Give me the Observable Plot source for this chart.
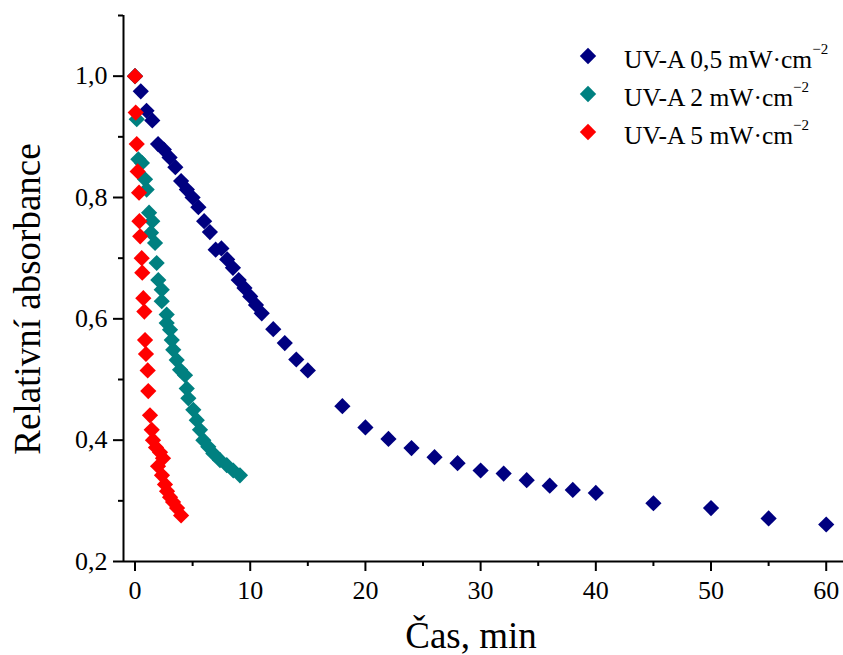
<!DOCTYPE html>
<html>
<head>
<meta charset="utf-8">
<script src="https://cdn.jsdelivr.net/npm/d3@7"></script>
<script src="https://cdn.jsdelivr.net/npm/@observablehq/plot@0.6"></script>
<style>
  html, body { margin: 0; padding: 0; background: #fff; }
  #wrap { position: relative; width: 843px; height: 655px; font-family: "Liberation Serif", "Times New Roman", serif; }
  #legend { position: absolute; left: 579px; top: 37px; font-size: 25.5px; line-height: 38px; color: #000; }
  #legend .row { display: flex; align-items: center; height: 38px; white-space: nowrap; }
  #legend svg { margin-right: 27px; }
  #legend sup { font-size: 15px; position: relative; top: -4px; }
  .title { position: absolute; font-size: 37px; color: #000; white-space: nowrap; line-height: 1; }
</style>
</head>
<body>
<div id="wrap"></div>
<script>
// Series 1: UV-A 0,5 mW·cm−2
const blueX = [0,0.5,1,1.5,2,2.5,3,3.5,4,4.5,5,5.5,6,6.5,7,7.5,8,8.5,9,9.5,10,10.5,11,12,13,14,15,18,20,22,24,26,28,30,32,34,36,38,40,45,50,55,60];
const blueY = [1.000,0.975,0.943,0.927,0.888,0.879,0.866,0.850,0.827,0.813,0.800,0.784,0.761,0.743,0.714,0.716,0.698,0.684,0.664,0.651,0.637,0.623,0.609,0.583,0.560,0.533,0.515,0.456,0.421,0.402,0.387,0.372,0.362,0.350,0.345,0.334,0.325,0.318,0.313,0.296,0.288,0.271,0.261];
// Series 2: UV-A 2 mW·cm−2
const tealX = [0,0.15,0.29,0.6,0.87,1.01,1.22,1.5,1.39,1.74,1.88,2.02,2.32,2.32,2.75,2.75,3.04,3.19,3.32,3.62,3.91,4.34,4.49,4.63,5.06,5.36,5.64,5.93,6.36,6.8,7.38,7.96,8.53,9.11];
const tealY = [1.000,0.929,0.863,0.857,0.830,0.813,0.775,0.761,0.742,0.725,0.692,0.664,0.648,0.629,0.607,0.593,0.582,0.565,0.549,0.532,0.516,0.507,0.485,0.469,0.450,0.433,0.417,0.400,0.389,0.378,0.367,0.359,0.350,0.342];
// Series 3: UV-A 5 mW·cm−2
const redX = [0,0.06,0.15,0.23,0.35,0.38,0.45,0.58,0.63,0.72,0.81,0.87,0.95,1.1,1.15,1.3,1.45,1.56,1.82,2.17,2.43,2.0,2.34,2.6,2.78,3.04,3.3,3.65,4.0];
const redY = [1.000,0.940,0.888,0.843,0.808,0.761,0.736,0.700,0.676,0.634,0.612,0.565,0.542,0.515,0.481,0.441,0.417,0.400,0.388,0.380,0.370,0.357,0.342,0.327,0.316,0.306,0.298,0.288,0.276];

const seriesNames = ["UV-A 0,5 mW·cm", "UV-A 2 mW·cm", "UV-A 5 mW·cm"];
const seriesColors = ["#000080", "#008080", "#ff0000"];

const xMajor = [0,10,20,30,40,50,60];
const xMinor = [5,15,25,35,45,55];
const yMajor = [0.2,0.4,0.6,0.8,1.0];
const yMinor = [0.3,0.5,0.7,0.9,1.1];

const xLabel = "Čas, min";
const yLabel = "Relativní absorbance";

const zip = (xs, ys, s) => xs.map((x, i) => ({x, y: ys[i], s}));
const data = [
  ...zip(blueX, blueY, seriesNames[0]),
  ...zip(tealX, tealY, seriesNames[1]),
  ...zip(redX, redY, seriesNames[2])
];

const fmt = d => d.toFixed(1).replace(".", ",");

const chart = Plot.plot({
  width: 843,
  height: 655,
  marginLeft: 123,
  marginRight: 0,
  marginTop: 15,
  marginBottom: 94,
  style: {fontFamily: "Liberation Serif, Times New Roman, serif", fontSize: "26px", color: "#000", background: "#fff"},
  x: {domain: [-1, 61.5], axis: null},
  y: {domain: [0.2, 1.1], axis: null},
  color: {domain: seriesNames, range: seriesColors},
  marks: [
    Plot.dot(data, {x: "x", y: "y", fill: "s", symbol: "diamond2", r: 7.3, stroke: null}),
    Plot.axisX({ticks: xMajor, label: null, tickSize: 10, tickPadding: 9, strokeWidth: 2, tickFormat: d => String(d), fontSize: 26, fill: "#000"}),
    Plot.axisX({ticks: xMinor, label: null, tickSize: 5, strokeWidth: 2, tickFormat: () => ""}),
    Plot.axisY({ticks: yMajor, label: null, tickSize: 10, tickPadding: 6, strokeWidth: 2, tickFormat: fmt, fontSize: 26, fill: "#000"}),
    Plot.axisY({ticks: yMinor, label: null, tickSize: 5, strokeWidth: 2, tickFormat: () => ""}),
    Plot.ruleY([0.2], {strokeWidth: 2, stroke: "#000"}),
    Plot.ruleX([-1], {strokeWidth: 2, stroke: "#000"})
  ]
});

const wrap = document.getElementById("wrap");
wrap.appendChild(chart);

// Legend
const legend = document.createElement("div");
legend.id = "legend";
seriesNames.forEach((name, i) => {
  const row = document.createElement("div");
  row.className = "row";
  row.innerHTML = `<svg width="18" height="18" viewBox="-9 -9 18 18"><path d="M0,-8.2L8.2,0L0,8.2L-8.2,0Z" fill="${seriesColors[i]}"/></svg><span>${name}<sup>−2</sup></span>`;
  legend.appendChild(row);
});
wrap.appendChild(legend);

const xt = document.createElement("div");
xt.className = "title";
xt.textContent = xLabel;
xt.style.left = "471px";
xt.style.top = "617px";
xt.style.transform = "translateX(-50%)";
wrap.appendChild(xt);

const yt = document.createElement("div");
yt.className = "title";
yt.textContent = yLabel;
yt.style.left = "27px";
yt.style.top = "299px";
yt.style.transform = "translate(-50%, -50%) rotate(-90deg)";
wrap.appendChild(yt);
</script>
</body>
</html>
